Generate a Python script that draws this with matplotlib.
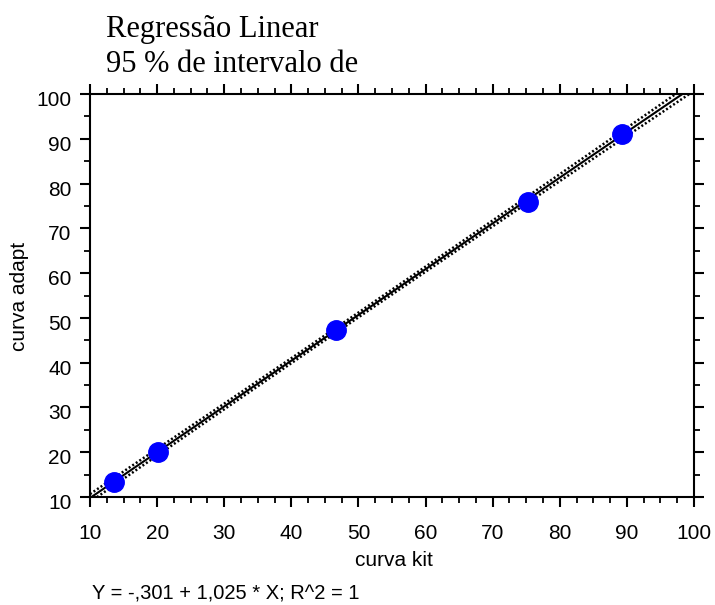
import numpy as np
import matplotlib
matplotlib.use("Agg")
import matplotlib.pyplot as plt
import matplotlib.transforms as mtrans
from matplotlib.ticker import MultipleLocator

# data
curva_kit = [13.5, 20.1, 46.7, 75.2, 89.2]
curva_adapt = [13.4, 20.1, 47.4, 75.9, 91.1]
x_ticks = [10, 20, 30, 40, 50, 60, 70, 80, 90, 100]
y_ticks = [10, 20, 30, 40, 50, 60, 70, 80, 90, 100]

x = np.array(curva_kit)
y = np.array(curva_adapt)

# linear fit with 95% confidence band for the mean
slope, icpt = np.polyfit(x, y, 1)
n = len(x)
resid = y - (icpt + slope * x)
s = np.sqrt(np.sum(resid**2) / (n - 2))
t_crit = 3.182  # t(0.975, df=3)
xx = np.linspace(10, 100, 400)
yy = icpt + slope * xx
se = s * np.sqrt(1 / n + (xx - x.mean())**2 / np.sum((x - x.mean())**2))

sans = "Liberation Sans"
fig = plt.figure(figsize=(7.15, 6.05), dpi=100)
ax = fig.add_axes([0.1259, 0.1785, 0.8447, 0.6661])

ax.plot(xx, yy, color="black", lw=1.5, zorder=2)
ax.plot(xx, yy + t_crit * se, color="black", lw=1.8, ls=(0, (0.8, 0.9)), zorder=2)
ax.plot(xx, yy - t_crit * se, color="black", lw=1.8, ls=(0, (0.8, 0.9)), zorder=2)
ax.plot(x, y, "o", color="#0000ff", ms=14, zorder=3)

ax.set_xlim(10, 100)
ax.set_ylim(10, 100)
ax.set_xticks(x_ticks)
ax.set_yticks(y_ticks)
ax.xaxis.set_minor_locator(MultipleLocator(2.5))
ax.yaxis.set_minor_locator(MultipleLocator(5))

for sp in ax.spines.values():
    sp.set_linewidth(1.5)
ax.tick_params(which="major", direction="out", length=7.2, width=1.5,
               top=True, right=True, labeltop=False, labelright=False,
               labelsize=15)
ax.tick_params(axis="x", which="major", pad=12)
ax.tick_params(axis="y", which="major", pad=6)
ax.tick_params(which="minor", direction="out", length=4, width=1.3,
               top=True, right=True)

# tick labels on y sit slightly below their ticks in the original
shift = mtrans.ScaledTranslation(0, -4.5 / 100, fig.dpi_scale_trans)
for lab in ax.get_yticklabels():
    lab.set_transform(lab.get_transform() + shift)
for lab in ax.get_xticklabels() + ax.get_yticklabels():
    lab.set_family(sans)

fig.text(394 / 715, 1 - 566 / 605, "curva kit", family=sans, fontsize=15,
         ha="center", va="baseline")
fig.text(20 / 715, 1 - 296 / 605, "curva adapt", family=sans, fontsize=15,
         ha="center", va="center", rotation=90)

fig.text(0.148, 1 - 36.7 / 605, "Regressão Linear",
         family="Liberation Serif", fontsize=22, ha="left", va="baseline")
fig.text(0.148, 1 - 71.7 / 605, "95 % de intervalo de",
         family="Liberation Serif", fontsize=22, ha="left", va="baseline")
fig.text(92 / 715, 1 - 600 / 605, "Y = -,301 + 1,025 * X; R^2 = 1",
         family=sans, fontsize=14.5, ha="left", va="baseline")

fig.savefig("out.png", dpi=100)
